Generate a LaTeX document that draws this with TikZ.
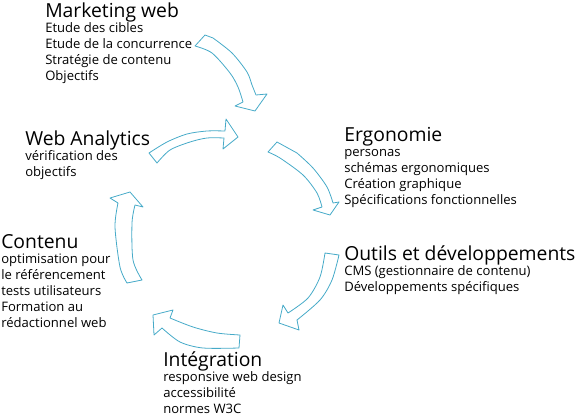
\documentclass[tikz,border=0pt]{standalone}
\usepackage{fontspec}
\setmainfont{Open Sans}
\usepackage{xcolor}
\usepackage{tikz}
\usetikzlibrary{positioning}

\definecolor{cycleblue}{RGB}{70,170,200}
\newcommand{\blocktitle}[1]{{\fontsize{14.5}{12}\selectfont #1}}

\begin{document}
\begin{tikzpicture}[
    x=0.75pt, y=-0.75pt,
    block/.style={anchor=base west, align=left, inner sep=0pt, font=\fontsize{9.8}{12}\selectfont},
    cyclearrow/.style={draw=cycleblue, line width=0.6pt, line join=round}
]
    \useasboundingbox (0,0) rectangle (579,418);

    % Text blocks (placed at the baseline of their last line)
    \node[block] (marketing) at (45,80) {\blocktitle{Marketing web}\\[-0.75pt]
        Etude des cibles\\ Etude de la concurrence\\ Stratégie de contenu\\ Objectifs};
    \node[block] (ergonomie) at (344,204) {\blocktitle{Ergonomie}\\[-0.75pt]
        personas\\ schémas ergonomiques\\ Création graphique\\ Spécifications fonctionnelles};
    \node[block] (outils) at (344,291) {\blocktitle{Outils et développements}\\[-0.75pt]
        CMS (gestionnaire de contenu)\\ Développements spécifiques};
    \node[block] (integration) at (163,413) {\blocktitle{Intégration}\\[-0.75pt]
        responsive web design\\ accessibilité\\ normes W3C};
    \node[block] (contenu) at (1,327) {\blocktitle{Contenu}\\[-0.75pt]
        optimisation pour\\ le référencement\\ tests utilisateurs\\ Formation au\\ rédactionnel web};
    \node[block] (analytics) at (25,176) {\blocktitle{Web Analytics}\\[-0.75pt]
        vérification des\\ objectifs};

    % Marketing -> Ergonomie
    \draw[cyclearrow] (205,35) -- plot[smooth] coordinates {(213,38) (232,53) (247,72) (252,85) (256,95)}
        -- (267,94) -- (255,111) -- (235,106)
        -- plot[smooth] coordinates {(243,102) (238,87) (230,73) (212,53) (195,46)} -- cycle;

    % Ergonomie -> Outils
    \draw[cyclearrow] (277,142) -- plot[smooth] coordinates {(297,153) (313,168) (327,187) (333,203)}
        -- (339,202) -- (330,215) -- (313,210)
        -- plot[smooth] coordinates {(322,207) (317,193) (303,175) (280,158) (268,152)} -- cycle;

    % Outils -> Integration
    \draw[cyclearrow] (325,253) -- (339,255)
        -- plot[smooth] coordinates {(339,255) (332,280) (320,300) (297,320)}
        -- (299,330) -- (279,323) -- (283,305)
        -- plot[smooth] coordinates {(288,313) (308,298) (320,277) (325,253)} -- cycle;

    % Integration -> Contenu
    \draw[cyclearrow] (239,348) -- (240,335)
        -- plot[smooth] coordinates {(240,335) (217,333) (193,327) (170,318)}
        -- (173,310) -- (153,315) -- (154,335)
        -- plot[smooth] coordinates {(162,328) (180,342) (203,348) (239,348)} -- cycle;

    % Contenu -> Web Analytics
    \draw[cyclearrow] (142,280) -- (127,283)
        -- plot[smooth] coordinates {(127,283) (120,267) (115,227) (118,203)}
        -- (110,198) -- (130,192) -- (143,207)
        -- plot[smooth] coordinates {(135,205) (132,223) (133,260) (142,280)} -- cycle;

    % Web Analytics -> Marketing
    \draw[cyclearrow] (157,163) -- (149,153)
        -- plot[smooth] coordinates {(149,153) (167,142) (187,134) (207,131) (225,131)}
        -- (226,119) -- (238,137) -- (223,149)
        -- plot[smooth] coordinates {(224,138) (207,138) (190,142) (170,150) (157,163)} -- cycle;
\end{tikzpicture}
\end{document}
